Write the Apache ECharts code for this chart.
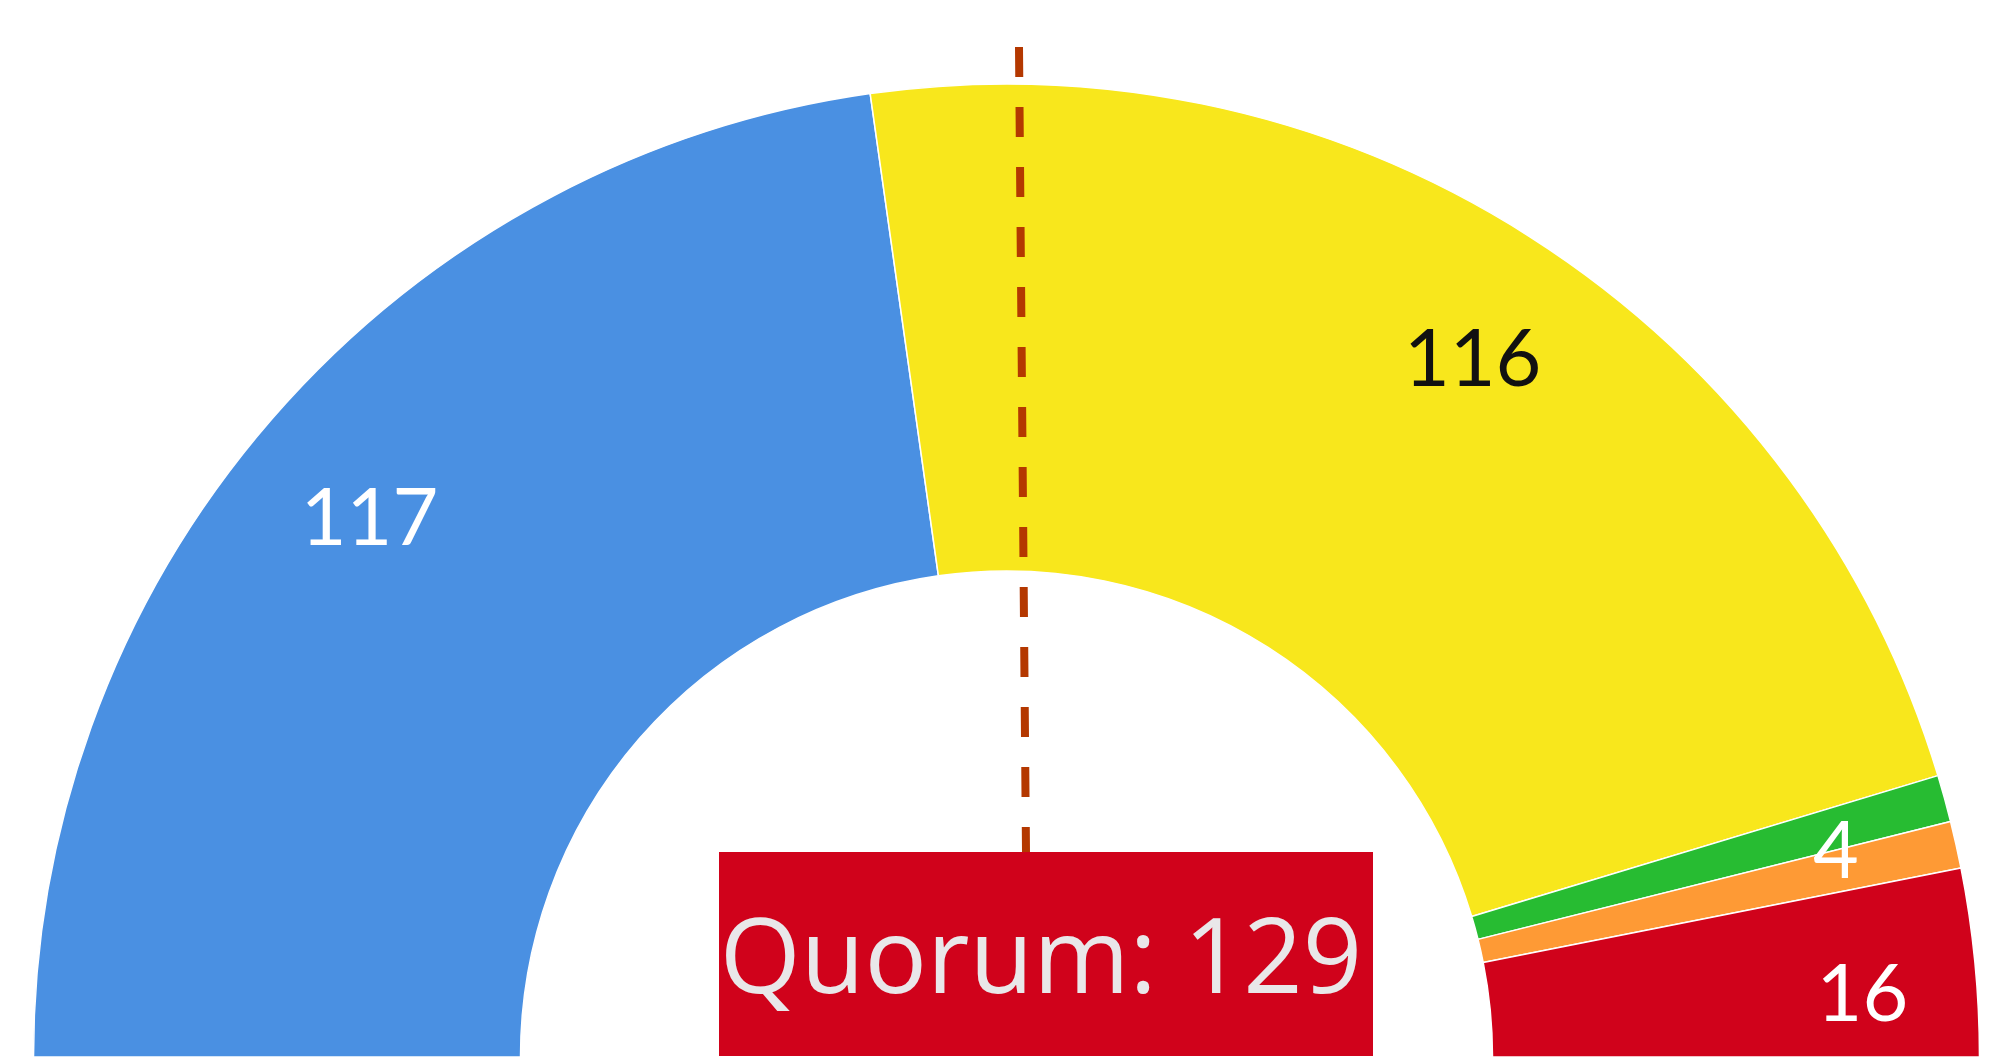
<!DOCTYPE html>
<html>
<head>
<meta charset="utf-8">
<script src="https://cdn.jsdelivr.net/npm/echarts@6/dist/echarts.min.js"></script>
<style>
  html, body { margin: 0; padding: 0; background: #fff; }
  #chart { width: 2013px; height: 1059px; }
</style>
</head>
<body>
<div id="chart"></div>
<script>
// seats per group, left to right
const groups = ['Blue', 'Yellow', 'Green', 'Orange', 'Red'];
const seats = [117, 116, 4, 4, 16];
const colors = ['#4a90e2', '#f8e71c', '#27bc32', '#fe9a35', '#d0021b'];
const labelColors = ['#fff', '#111', '#fff', '#fff', '#fff'];
const showLabel = [true, true, true, false, true];
const quorum = 129;

const chart = echarts.init(document.getElementById('chart'));

const center = ['50%', 1057];

chart.setOption({
  animation: false,
  series: [
    {
      type: 'pie',
      center: center,
      radius: [486, 973],
      startAngle: 180,
      endAngle: 0,
      silent: true,
      label: {show: false},
      labelLine: {show: false},
      itemStyle: {borderColor: '#fff', borderWidth: 1.5},
      data: groups.map((name, i) => ({name, value: seats[i], itemStyle: {color: colors[i]}}))
    },
    {
      // labels only
      type: 'pie',
      center: center,
      radius: [800, 900],
      startAngle: 180,
      endAngle: 0,
      silent: true,
      avoidLabelOverlap: false,
      itemStyle: {color: 'rgba(0,0,0,0)'},
      labelLine: {show: false},
      label: {
        show: true,
        position: 'inside',
        fontFamily: 'Lato',
        fontSize: 79,
        offset: [7, 22],
        formatter: '{c}'
      },
      data: groups.map((name, i) => ({
        name,
        value: seats[i],
        label: {show: showLabel[i], color: labelColors[i]}
      }))
    }
  ],
  graphic: [
    {
      type: 'line',
      z: 10,
      shape: {x1: 1019, y1: 47, x2: 1026, y2: 852},
      style: {stroke: '#b43800', lineWidth: 8, lineDash: [30, 30]}
    },
    {
      type: 'rect',
      z: 11,
      shape: {x: 719, y: 852, width: 654, height: 204},
      style: {fill: '#d0021b'}
    },
    {
      type: 'text',
      z: 12,
      x: 1041,
      y: 963,
      style: {
        text: 'Quorum: ' + quorum,
        fill: '#e9e7e9',
        font: '104px "Open Sans"',
        align: 'center',
        verticalAlign: 'middle'
      }
    }
  ]
});
</script>
</body>
</html>
